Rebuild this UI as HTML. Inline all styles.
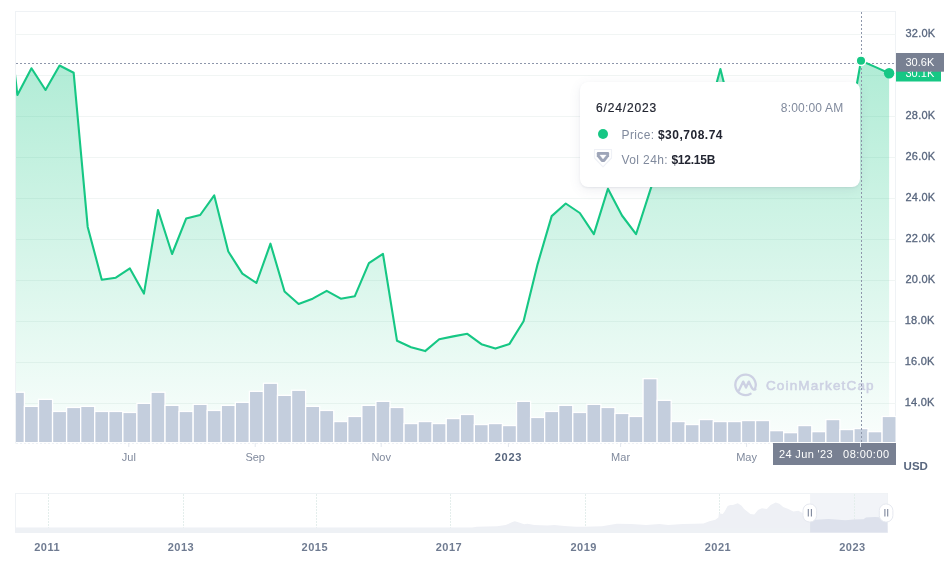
<!DOCTYPE html>
<html><head><meta charset="utf-8"><style>
html,body{margin:0;padding:0;background:#fff;}
body{width:952px;height:573px;position:relative;overflow:hidden;font-family:"Liberation Sans",Arial,sans-serif;}
svg{position:absolute;left:0;top:0;}
.yl text{font-size:11px;fill:#58667e;stroke:#58667e;stroke-width:0.3px;}
.xr{font-size:11px;fill:#808a9d;}
.xb{font-size:11px;fill:#58667e;font-weight:bold;letter-spacing:0.7px;}
.nl text{font-size:11px;fill:#6f7b91;font-weight:bold;letter-spacing:0.5px;}
.tt{position:absolute;left:580px;top:82px;width:280px;height:105px;background:#fff;border-radius:8px;
box-shadow:0 1px 2px rgba(88,102,126,0.10),0 3px 12px rgba(88,102,126,0.10);color:#222531;font-size:12px;}
.tt .d{position:absolute;left:16px;top:18.5px;letter-spacing:0.85px;-webkit-text-stroke:0.2px #222531;}
.tt .t{position:absolute;right:16.5px;top:18.5px;color:#808a9d;letter-spacing:0.2px;}
.tt .r{position:absolute;left:41.5px;white-space:nowrap;}
.tt .g{color:#808a9d;letter-spacing:0.4px;}
.tt b{font-weight:bold;letter-spacing:0.5px;}
</style></head><body>
<svg width="952" height="573" viewBox="0 0 952 573">
<defs>
<linearGradient id="ag" x1="0" y1="60" x2="0" y2="442" gradientUnits="userSpaceOnUse">
<stop offset="0" stop-color="#16c784" stop-opacity="0.34"/>
<stop offset="1" stop-color="#16c784" stop-opacity="0.02"/>
</linearGradient>
<clipPath id="pc"><rect x="16" y="11" width="880" height="432"/></clipPath>
</defs>
<!-- plot frame -->
<g stroke="#eff2f5" stroke-width="1" fill="none">
<line x1="15" x2="896" y1="11.5" y2="11.5"/>
<line x1="15.5" x2="15.5" y1="11" y2="443.5"/>
<line x1="895.5" x2="895.5" y1="11" y2="443"/>
</g>
<g stroke="#f1f5f4" stroke-width="1">
<line x1="15" x2="896" y1="34.5" y2="34.5"/>
<line x1="15" x2="896" y1="75.5" y2="75.5"/>
<line x1="15" x2="896" y1="116.5" y2="116.5"/>
<line x1="15" x2="896" y1="157.5" y2="157.5"/>
<line x1="15" x2="896" y1="198.5" y2="198.5"/>
<line x1="15" x2="896" y1="239.5" y2="239.5"/>
<line x1="15" x2="896" y1="280.5" y2="280.5"/>
<line x1="15" x2="896" y1="321.5" y2="321.5"/>
<line x1="15" x2="896" y1="362.5" y2="362.5"/>
<line x1="15" x2="896" y1="403.5" y2="403.5"/>
</g>
<line x1="16" x2="895" y1="443.5" y2="443.5" stroke="#eef1f5" stroke-dasharray="2,2"/>
<g clip-path="url(#pc)">
<polygon points="3.34,-25.00 17.40,95.00 31.46,68.30 45.52,90.00 59.58,65.50 73.64,72.70 87.70,226.90 101.76,279.70 115.82,277.70 129.88,268.40 143.94,293.60 158.00,210.00 172.06,254.00 186.12,218.60 200.18,215.00 214.24,195.40 228.30,251.50 242.36,273.60 256.42,283.00 270.48,243.70 284.54,291.50 298.60,304.00 312.66,298.70 326.72,290.80 340.78,298.70 354.84,296.20 368.90,263.20 382.96,253.80 397.02,340.80 411.08,347.20 425.14,351.10 439.20,339.20 453.26,336.40 467.32,333.80 481.38,344.20 495.44,348.60 509.50,343.90 523.56,321.30 537.62,264.10 551.68,216.10 565.74,203.50 579.80,213.00 593.86,234.10 607.92,188.80 621.98,215.50 636.04,234.20 650.10,190.60 664.16,148.00 678.22,132.00 692.28,125.00 706.34,121.00 720.40,69.00 734.46,125.00 748.52,125.00 762.58,118.00 776.64,130.00 790.70,135.00 804.76,140.00 818.82,133.00 832.88,145.00 846.94,140.00 861.00,60.70 875.06,66.90 889.12,73.20 889.12,442.5 3.34,442.5" fill="url(#ag)"/>
<g fill="#c4cedd" stroke="#fff" stroke-width="1.3">
<rect x="10.37" y="392.25" width="14.06" height="50.40"/>
<rect x="24.43" y="406.35" width="14.06" height="36.30"/>
<rect x="38.49" y="399.35" width="14.06" height="43.30"/>
<rect x="52.55" y="411.45" width="14.06" height="31.20"/>
<rect x="66.61" y="407.45" width="14.06" height="35.20"/>
<rect x="80.67" y="406.35" width="14.06" height="36.30"/>
<rect x="94.73" y="411.45" width="14.06" height="31.20"/>
<rect x="108.79" y="411.45" width="14.06" height="31.20"/>
<rect x="122.85" y="412.45" width="14.06" height="30.20"/>
<rect x="136.91" y="403.35" width="14.06" height="39.30"/>
<rect x="150.97" y="392.25" width="14.06" height="50.40"/>
<rect x="165.03" y="405.35" width="14.06" height="37.30"/>
<rect x="179.09" y="411.45" width="14.06" height="31.20"/>
<rect x="193.15" y="404.35" width="14.06" height="38.30"/>
<rect x="207.21" y="410.45" width="14.06" height="32.20"/>
<rect x="221.27" y="405.35" width="14.06" height="37.30"/>
<rect x="235.33" y="402.35" width="14.06" height="40.30"/>
<rect x="249.39" y="391.35" width="14.06" height="51.30"/>
<rect x="263.45" y="383.25" width="14.06" height="59.40"/>
<rect x="277.51" y="395.35" width="14.06" height="47.30"/>
<rect x="291.57" y="390.25" width="14.06" height="52.40"/>
<rect x="305.63" y="406.35" width="14.06" height="36.30"/>
<rect x="319.69" y="410.45" width="14.06" height="32.20"/>
<rect x="333.75" y="421.55" width="14.06" height="21.10"/>
<rect x="347.81" y="416.45" width="14.06" height="26.20"/>
<rect x="361.87" y="405.35" width="14.06" height="37.30"/>
<rect x="375.93" y="401.35" width="14.06" height="41.30"/>
<rect x="389.99" y="407.45" width="14.06" height="35.20"/>
<rect x="404.05" y="423.55" width="14.06" height="19.10"/>
<rect x="418.11" y="421.55" width="14.06" height="21.10"/>
<rect x="432.17" y="423.55" width="14.06" height="19.10"/>
<rect x="446.23" y="418.55" width="14.06" height="24.10"/>
<rect x="460.29" y="414.45" width="14.06" height="28.20"/>
<rect x="474.35" y="424.55" width="14.06" height="18.10"/>
<rect x="488.41" y="423.55" width="14.06" height="19.10"/>
<rect x="502.47" y="425.55" width="14.06" height="17.10"/>
<rect x="516.53" y="401.35" width="14.06" height="41.30"/>
<rect x="530.59" y="417.45" width="14.06" height="25.20"/>
<rect x="544.65" y="411.45" width="14.06" height="31.20"/>
<rect x="558.71" y="405.35" width="14.06" height="37.30"/>
<rect x="572.77" y="412.45" width="14.06" height="30.20"/>
<rect x="586.83" y="404.35" width="14.06" height="38.30"/>
<rect x="600.89" y="407.45" width="14.06" height="35.20"/>
<rect x="614.95" y="413.45" width="14.06" height="29.20"/>
<rect x="629.01" y="416.45" width="14.06" height="26.20"/>
<rect x="643.07" y="378.65" width="14.06" height="64.00"/>
<rect x="657.13" y="400.35" width="14.06" height="42.30"/>
<rect x="671.19" y="421.55" width="14.06" height="21.10"/>
<rect x="685.25" y="424.55" width="14.06" height="18.10"/>
<rect x="699.31" y="419.55" width="14.06" height="23.10"/>
<rect x="713.37" y="421.55" width="14.06" height="21.10"/>
<rect x="727.43" y="421.55" width="14.06" height="21.10"/>
<rect x="741.49" y="420.55" width="14.06" height="22.10"/>
<rect x="755.55" y="420.55" width="14.06" height="22.10"/>
<rect x="769.61" y="430.65" width="14.06" height="12.00"/>
<rect x="783.67" y="432.65" width="14.06" height="10.00"/>
<rect x="797.73" y="425.55" width="14.06" height="17.10"/>
<rect x="811.79" y="431.65" width="14.06" height="11.00"/>
<rect x="825.85" y="419.55" width="14.06" height="23.10"/>
<rect x="839.91" y="429.55" width="14.06" height="13.10"/>
<rect x="853.97" y="428.55" width="14.06" height="14.10"/>
<rect x="868.03" y="431.65" width="14.06" height="11.00"/>
<rect x="882.09" y="416.45" width="14.06" height="26.20"/>
</g>
<!-- watermark -->
<g fill="none" stroke="#cdd1e3" stroke-width="2.3" stroke-linecap="round" stroke-linejoin="round">
<path d="M755.1 388.4 A10.2 10.2 0 1 0 750.6 393.7"/>
<path d="M738.9 390.6 L743.2 381.6 L746 387.6 L748.8 381.6 L751.6 387.4 Q753.3 390.6 755.4 389.3"/>
</g>
<text x="765.9" y="390" font-size="13.5" fill="#cdd1e3" stroke="#cdd1e3" stroke-width="0.55" textLength="107.7" lengthAdjust="spacing">CoinMarketCap</text>
<!-- crosshair -->
<line x1="16" x2="896" y1="63.5" y2="63.5" stroke="#8e97ab" stroke-width="1" stroke-dasharray="2,2"/>
<line x1="861.5" x2="861.5" y1="12" y2="443" stroke="#8e97ab" stroke-width="1" stroke-dasharray="2,2"/>
<polyline points="3.34,-25.00 17.40,95.00 31.46,68.30 45.52,90.00 59.58,65.50 73.64,72.70 87.70,226.90 101.76,279.70 115.82,277.70 129.88,268.40 143.94,293.60 158.00,210.00 172.06,254.00 186.12,218.60 200.18,215.00 214.24,195.40 228.30,251.50 242.36,273.60 256.42,283.00 270.48,243.70 284.54,291.50 298.60,304.00 312.66,298.70 326.72,290.80 340.78,298.70 354.84,296.20 368.90,263.20 382.96,253.80 397.02,340.80 411.08,347.20 425.14,351.10 439.20,339.20 453.26,336.40 467.32,333.80 481.38,344.20 495.44,348.60 509.50,343.90 523.56,321.30 537.62,264.10 551.68,216.10 565.74,203.50 579.80,213.00 593.86,234.10 607.92,188.80 621.98,215.50 636.04,234.20 650.10,190.60 664.16,148.00 678.22,132.00 692.28,125.00 706.34,121.00 720.40,69.00 734.46,125.00 748.52,125.00 762.58,118.00 776.64,130.00 790.70,135.00 804.76,140.00 818.82,133.00 832.88,145.00 846.94,140.00 861.00,60.70 875.06,66.90 889.12,73.20" fill="none" stroke="#16c784" stroke-width="2.1" stroke-linejoin="round" stroke-linecap="round"/>
<circle cx="861.00" cy="60.7" r="4.8" fill="#16c784" stroke="#fff" stroke-width="1.5"/>
<circle cx="889.12" cy="73.2" r="5.2" fill="#16c784"/>
</g>
<g class="yl">
<text x="905.5" y="37.0" letter-spacing="0.2">32.0K</text>
<text x="905.5" y="119.0" letter-spacing="0.2">28.0K</text>
<text x="905.5" y="160.0" letter-spacing="0.2">26.0K</text>
<text x="905.5" y="201.0" letter-spacing="0.2">24.0K</text>
<text x="905.5" y="242.0" letter-spacing="0.2">22.0K</text>
<text x="905.5" y="283.0" letter-spacing="0.2">20.0K</text>
<text x="904.8" y="324.0" letter-spacing="0.2">18.0K</text>
<text x="904.8" y="365.0" letter-spacing="0.2">16.0K</text>
<text x="904.8" y="406.0" letter-spacing="0.2">14.0K</text>
</g>
<!-- price labels -->
<rect x="896" y="63.5" width="45" height="18" fill="#16c784"/>
<text x="905.5" y="77" font-size="11" fill="#fff">30.1K</text>
<rect x="896" y="53" width="48" height="18.7" fill="#788092"/>
<text x="905.5" y="66.2" font-size="11" fill="#fff">30.6K</text>
<!-- x axis -->
<g stroke="#e3e7ee" stroke-width="1">
<line x1="128.8" x2="128.8" y1="443" y2="447"/>
<line x1="255.2" x2="255.2" y1="443" y2="447"/>
<line x1="381.2" x2="381.2" y1="443" y2="447"/>
<line x1="508.4" x2="508.4" y1="443" y2="447"/>
<line x1="620.6" x2="620.6" y1="443" y2="447"/>
<line x1="746.6" x2="746.6" y1="443" y2="447"/>
</g>
<text x="128.8" y="461" text-anchor="middle" class="xr">Jul</text>
<text x="255.2" y="461" text-anchor="middle" class="xr">Sep</text>
<text x="381.2" y="461" text-anchor="middle" class="xr">Nov</text>
<text x="508.4" y="461" text-anchor="middle" class="xb">2023</text>
<text x="620.6" y="461" text-anchor="middle" class="xr">Mar</text>
<text x="746.6" y="461" text-anchor="middle" class="xr">May</text>
<rect x="773" y="443" width="123" height="22" fill="#788092"/>
<line x1="860.5" x2="860.5" y1="443" y2="447" stroke="#dfe3ea"/>
<text x="779" y="458" font-size="11" fill="#fff" letter-spacing="0.35">24 Jun '23</text>
<text x="843.1" y="458" font-size="11" fill="#fff" letter-spacing="0.45">08:00:00</text>
<text x="903.6" y="470" font-size="11.5" font-weight="bold" fill="#58667e">USD</text>
<!-- navigator -->
<rect x="15.5" y="493.5" width="872" height="39" fill="none" stroke="#eff2f5"/>
<rect x="810.1" y="493.5" width="77.4" height="39" fill="#f2f4f8"/>
<g stroke="#e4eeec" stroke-width="1" stroke-dasharray="2,1">
<line x1="48.5" x2="48.5" y1="494" y2="528"/>
<line x1="183.5" x2="183.5" y1="494" y2="528"/>
<line x1="316.5" x2="316.5" y1="494" y2="528"/>
<line x1="450.5" x2="450.5" y1="494" y2="528"/>
<line x1="585.5" x2="585.5" y1="494" y2="528"/>
<line x1="719.5" x2="719.5" y1="494" y2="528"/>
<line x1="854.5" x2="854.5" y1="494" y2="528"/>
</g>
<polygon points="15,532.5 15.50,527.60 472.00,527.60 477.00,526.80 497.20,526.30 505.60,525.10 512.40,522.10 514.90,521.30 519.00,522.60 524.10,524.30 527.50,523.80 534.20,525.10 547.60,525.50 554.40,525.10 564.50,526.00 576.20,526.80 584.60,526.80 602.00,526.30 616.80,523.80 631.50,524.10 646.20,524.90 659.40,524.10 668.20,525.10 683.00,524.10 694.70,523.70 703.50,523.40 709.40,521.20 715.30,519.70 718.40,517.50 718.90,513.30 722.70,513.90 724.60,511.40 727.70,506.10 730.30,505.10 732.80,505.10 737.80,503.20 741.60,505.70 744.10,508.90 747.30,511.40 750.40,513.90 754.20,514.50 758.00,510.10 761.80,508.20 766.80,508.90 770.60,505.10 775.70,502.60 779.40,503.80 783.20,507.00 788.30,508.90 793.30,511.40 798.40,510.80 802.10,512.70 804.70,514.00 808.00,518.50 811.00,519.80 817.30,519.80 828.60,518.90 838.10,519.80 845.60,520.30 854.10,519.40 863.50,519.20 866.00,517.40 875.00,517.00 878.70,517.20 887.50,517.20 888,532.5" fill="#eef0f5"/>
<rect x="16" y="528" width="871" height="4.8" fill="#eef1f5"/>
<clipPath id="selc"><rect x="810.1" y="493" width="77.4" height="40"/></clipPath>
<polygon points="15,532.5 15.50,527.60 472.00,527.60 477.00,526.80 497.20,526.30 505.60,525.10 512.40,522.10 514.90,521.30 519.00,522.60 524.10,524.30 527.50,523.80 534.20,525.10 547.60,525.50 554.40,525.10 564.50,526.00 576.20,526.80 584.60,526.80 602.00,526.30 616.80,523.80 631.50,524.10 646.20,524.90 659.40,524.10 668.20,525.10 683.00,524.10 694.70,523.70 703.50,523.40 709.40,521.20 715.30,519.70 718.40,517.50 718.90,513.30 722.70,513.90 724.60,511.40 727.70,506.10 730.30,505.10 732.80,505.10 737.80,503.20 741.60,505.70 744.10,508.90 747.30,511.40 750.40,513.90 754.20,514.50 758.00,510.10 761.80,508.20 766.80,508.90 770.60,505.10 775.70,502.60 779.40,503.80 783.20,507.00 788.30,508.90 793.30,511.40 798.40,510.80 802.10,512.70 804.70,514.00 808.00,518.50 811.00,519.80 817.30,519.80 828.60,518.90 838.10,519.80 845.60,520.30 854.10,519.40 863.50,519.20 866.00,517.40 875.00,517.00 878.70,517.20 887.50,517.20 888,532.5" fill="#dde1ec" clip-path="url(#selc)"/>
<g>
<rect x="803" y="504" width="13.6" height="18" rx="6.5" fill="#fff" stroke="#e6e9f0" stroke-width="1"/>
<line x1="808.3" x2="808.3" y1="509" y2="516.5" stroke="#7d869b" stroke-width="1.1"/>
<line x1="811.4" x2="811.4" y1="509" y2="516.5" stroke="#7d869b" stroke-width="1.1"/>
<rect x="879.3" y="504" width="13.6" height="18" rx="6.5" fill="#fff" stroke="#e6e9f0" stroke-width="1"/>
<line x1="884.9" x2="884.9" y1="509" y2="516.5" stroke="#7d869b" stroke-width="1.1"/>
<line x1="887.7" x2="887.7" y1="509" y2="516.5" stroke="#7d869b" stroke-width="1.1"/>
</g>
<g class="nl">
<text x="47.1" y="551" text-anchor="middle">2011</text>
<text x="181" y="551" text-anchor="middle">2013</text>
<text x="314.8" y="551" text-anchor="middle">2015</text>
<text x="449" y="551" text-anchor="middle">2017</text>
<text x="583.7" y="551" text-anchor="middle">2019</text>
<text x="718" y="551" text-anchor="middle">2021</text>
<text x="852.5" y="551" text-anchor="middle">2023</text>
</g>
</svg>
<div class="tt">
<div class="d">6/24/2023</div>
<div class="t">8:00:00 AM</div>
<svg style="left:17px;top:46px" width="12" height="12" viewBox="0 0 12 12"><circle cx="6" cy="6" r="5" fill="#16c784"/></svg>
<div class="r" style="top:46px"><span class="g">Price:</span> <b>$30,708.74</b></div>
<svg style="left:12px;top:66px" width="22" height="22" viewBox="0 0 22 22">
<path d="M2.5 1.5 H19.5 V10 L11 18.8 L2.5 10 Z" fill="none" stroke="#eff1f6" stroke-width="1.2" stroke-linejoin="round"/>
<path d="M6 4 H16 Q17.1 4 17.1 5.2 V8.3 L13.2 13.2 Q12.4 14.1 11 14.1 Q9.6 14.1 8.8 13.2 L4.8 8.3 V5.2 Q4.8 4 6 4 Z" fill="#9ea5b8"/>
<path d="M7.9 7.1 H14.2 L11 10.9 Z" fill="#fff" stroke="#fff" stroke-width="0.4" stroke-linejoin="round"/>
</svg>
<div class="r" style="top:70.8px"><span class="g">Vol 24h:</span> <b style="letter-spacing:-0.25px">$12.15B</b></div>
</div>
</body></html>
